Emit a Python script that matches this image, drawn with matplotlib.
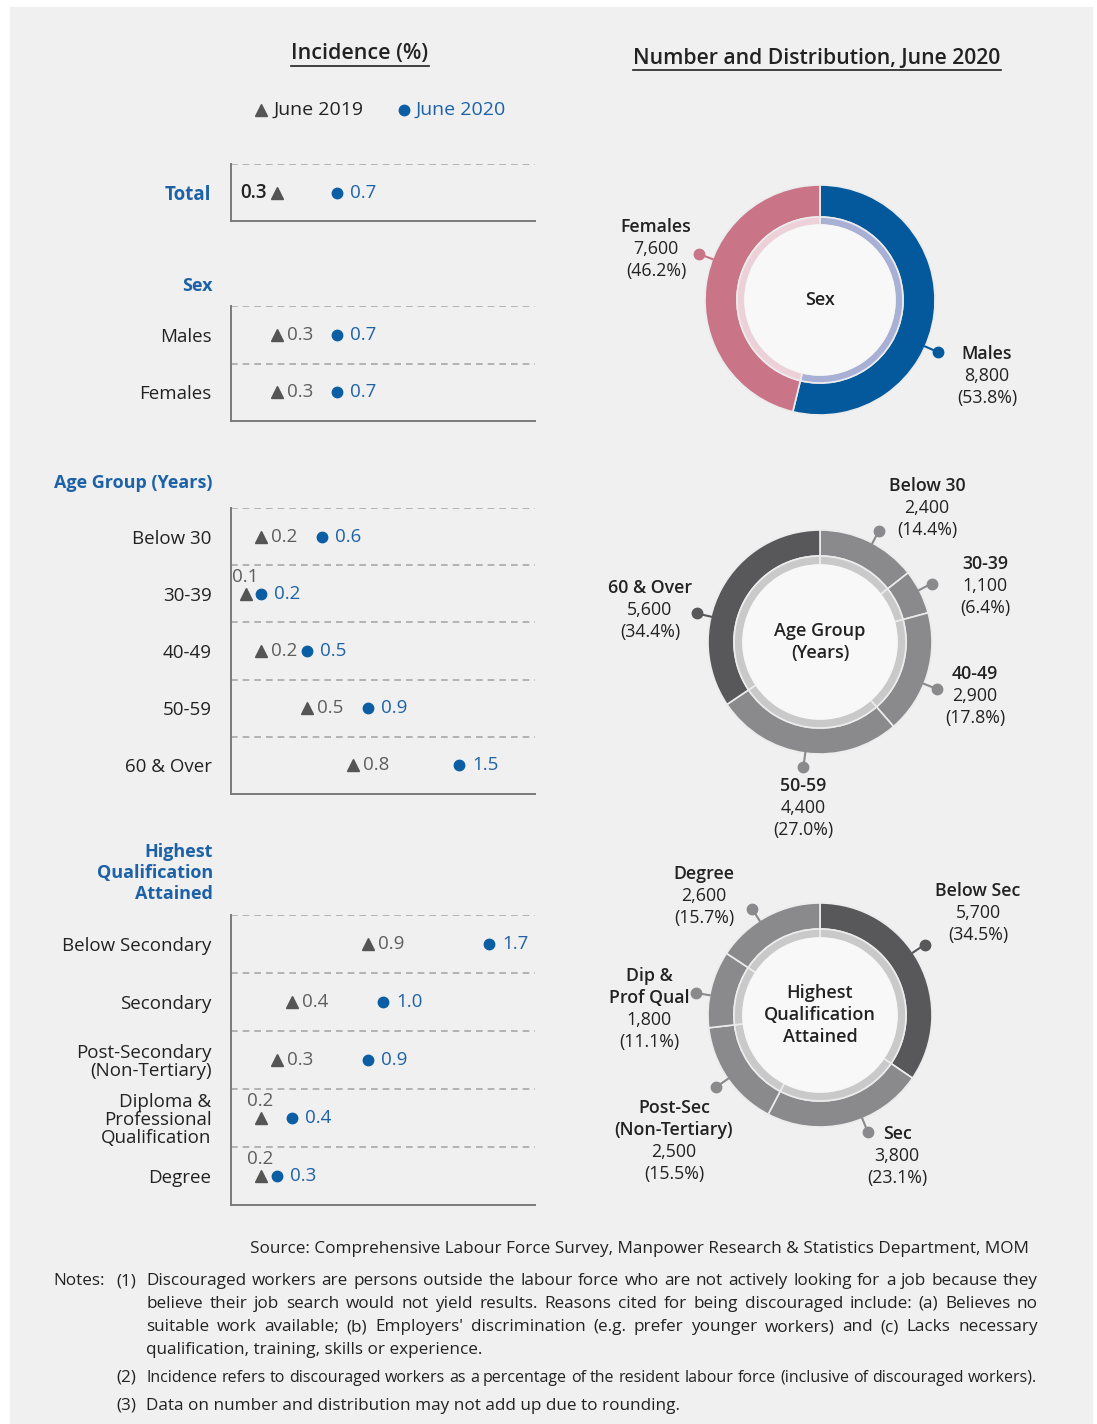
import matplotlib
matplotlib.use("Agg")
import matplotlib.pyplot as plt
import numpy as np
from matplotlib.patches import Circle, Rectangle

W, H = 1097, 1424
plt.rcParams["font.family"] = ["Open Sans", "DejaVu Sans"]

# ---- incidence (%) ----
total_labels = ["Total"]
total_2019 = [0.3]
total_2020 = [0.7]

sex_labels = ["Males", "Females"]
sex_2019 = [0.3, 0.3]
sex_2020 = [0.7, 0.7]

age_labels = ["Below 30", "30-39", "40-49", "50-59", "60 & Over"]
age_2019 = [0.2, 0.1, 0.2, 0.5, 0.8]
age_2020 = [0.6, 0.2, 0.5, 0.9, 1.5]

qual_labels = ["Below Secondary", "Secondary", "Post-Secondary\n(Non-Tertiary)",
               "Diploma &\nProfessional\nQualification", "Degree"]
qual_2019 = [0.9, 0.4, 0.3, 0.2, 0.2]
qual_2020 = [1.7, 1.0, 0.9, 0.4, 0.3]

# ---- number and distribution, June 2020 ----
sex_names = ["Males", "Females"]
sex_counts = [8800, 7600]
sex_shares = [53.8, 46.2]

age_names = ["Below 30", "30-39", "40-49", "50-59", "60 & Over"]
age_counts = [2400, 1100, 2900, 4400, 5600]
age_shares = [14.4, 6.4, 17.8, 27.0, 34.4]

qual_names = ["Below Sec", "Sec", "Post-Sec\n(Non-Tertiary)", "Dip &\nProf Qual", "Degree"]
qual_counts = [5700, 3800, 2500, 1800, 2600]
qual_shares = [34.5, 23.1, 15.5, 11.1, 15.7]

PANEL = "#f0f0f0"
BLUE = "#0b5ea3"
BLUE_TXT = "#1d62a6"
TRI = "#555555"
TRI_TXT = "#5e5e5e"
DARK = "#222222"
DASH = "#a8a8a8"
AXIS = "#7a7a7a"

fig = plt.figure(figsize=(W / 100, H / 100), dpi=100)
fig.patch.set_facecolor("white")
bg = fig.add_axes([0, 0, 1, 1])
bg.set_xlim(0, W)
bg.set_ylim(H, 0)
bg.axis("off")
bg.add_patch(Rectangle((10, 7), 1082, H - 7, color=PANEL, zorder=0))
renderer = fig.canvas.get_renderer()


def px_axes(x0, y0, x1, y1):
    return fig.add_axes([x0 / W, 1 - y1 / H, (x1 - x0) / W, (y1 - y0) / H])


def underlined(x, y, text, size):
    t = bg.text(x, y, text, ha="center", va="center", fontsize=size,
                fontweight="semibold", color=DARK)
    bb = t.get_window_extent(renderer)
    bg.plot([x - bb.width / 2, x + bb.width / 2], [y + 12, y + 12],
            color=DARK, lw=1.2)


underlined(360, 54, "Incidence (%)", 15.5)
underlined(817, 58, "Number and Distribution, June 2020", 15.2)

# legend
bg.plot(261, 110, "^", color=TRI, ms=9)
bg.text(273, 110, "June 2019", va="center", fontsize=14, color=DARK)
bg.plot(404, 110, "o", color=BLUE, ms=7.5)
bg.text(416, 110, "June 2020", va="center", fontsize=14, color=BLUE_TXT)


def dot_section(top, bottom, labels, v19, v20, modes, header=None, header_y=None):
    n = len(labels)
    ax = px_axes(231, top, 535, bottom)
    ax.set_xlim(0, 2)
    ax.set_ylim(n, 0)
    ax.patch.set_alpha(0)
    for s in ("top", "right"):
        ax.spines[s].set_visible(False)
    for s in ("left", "bottom"):
        ax.spines[s].set_color(AXIS)
        ax.spines[s].set_linewidth(1.4)
    for k in range(n):
        ax.axhline(k, color=DASH, ls=(0, (4, 3)), lw=1.2)
    ys = np.arange(n) + 0.5
    ax.set_xticks([])
    ax.set_yticks(ys, labels, fontsize=13.5, color=DARK, linespacing=1.0)
    ax.tick_params(axis="y", length=0, pad=14)
    if header == "Total":
        for t in ax.get_yticklabels():
            t.set_color(BLUE_TXT)
            t.set_fontweight("bold")
    ax.plot(v19, ys, "^", color=TRI, ms=9, ls="none", clip_on=False)
    ax.plot(v20, ys, "o", color=BLUE, ms=7.5, ls="none", clip_on=False)
    for a, b, y, m in zip(v19, v20, ys, modes):
        if m == "left":
            ax.annotate(f"{a:.1f}", (a, y), xytext=(-10, 0), textcoords="offset pixels",
                        ha="right", va="center", fontsize=13.5, color=DARK,
                        fontweight="semibold")
        elif m == "above":
            ax.annotate(f"{a:.1f}", (a, y), xytext=(-14, 17), textcoords="offset pixels",
                        ha="left", va="center", fontsize=13.5, color=TRI_TXT)
        else:
            ax.annotate(f"{a:.1f}", (a, y), xytext=(10, 0), textcoords="offset pixels",
                        ha="left", va="center", fontsize=13.5, color=TRI_TXT)
        ax.annotate(f"{b:.1f}", (b, y), xytext=(13, 0), textcoords="offset pixels",
                    ha="left", va="center", fontsize=13.5, color=BLUE_TXT)
    if header and header != "Total":
        bg.text(213, header_y, header, ha="right", va="center", fontsize=13,
                fontweight="bold", color=BLUE_TXT, linespacing=1.2)


dot_section(164, 221, total_labels, total_2019, total_2020, ["left"], header="Total")
dot_section(306, 421, sex_labels, sex_2019, sex_2020, ["right"] * 2,
            header="Sex", header_y=286)
dot_section(508, 794, age_labels, age_2019, age_2020,
            ["right", "above", "right", "right", "right"],
            header="Age Group (Years)", header_y=483)
dot_section(915, 1205, qual_labels, qual_2019, qual_2020,
            ["right", "right", "right", "above", "above"],
            header="Highest\nQualification\nAttained", header_y=873)


def donut(cx, cy, R, r_main, r_light, shares, colors, lights, nudges,
          names, counts, label_pos, center_text):
    half = R + 24
    ax = px_axes(cx - half, cy - half, cx + half, cy + half)
    ax.pie(shares, colors=colors, radius=1, startangle=90, counterclock=False,
           wedgeprops=dict(width=1 - r_main / R, edgecolor="#ececec", linewidth=1.2))
    ax.pie(shares, colors=lights, radius=r_main / R, startangle=90, counterclock=False,
           wedgeprops=dict(width=(r_main - r_light) / R, edgecolor="#ececec",
                           linewidth=1.2))
    ax.add_patch(Circle((0, 0), r_light / R, color="#f8f8f8", zorder=3))
    ax.set_xlim(-half / R, half / R)
    ax.set_ylim(-half / R, half / R)
    ax.set_aspect("equal")
    ax.axis("off")
    ax.text(0, 0, center_text, ha="center", va="center", fontsize=13,
            fontweight="semibold", color=DARK, linespacing=1.25, zorder=4)

    bounds = np.cumsum(shares) - np.array(shares) / 2
    for mid, nud, c in zip(bounds, nudges, colors):
        ang = np.radians(90 - (360 * mid / 100 + nud))
        r1 = 1 + 14 / R
        ax.plot([np.cos(ang), r1 * np.cos(ang)], [np.sin(ang), r1 * np.sin(ang)],
                color=c, lw=1.5, clip_on=False)
        ax.plot(r1 * np.cos(ang), r1 * np.sin(ang), "o", color=c, ms=7.5, clip_on=False)

    for name, cnt, share, (x, y) in zip(names, counts, shares, label_pos):
        lines = name.split("\n")
        for j, t in enumerate(lines):
            bg.text(x, y + 22 * j, t, ha="center", va="center", fontsize=12.8,
                    fontweight="semibold", color=DARK)
        k = len(lines)
        bg.text(x, y + 22 * k, f"{cnt:,}", ha="center", va="center",
                fontsize=12.8, color=DARK)
        bg.text(x, y + 22 * (k + 1), f"({share:.1f}%)", ha="center", va="center",
                fontsize=12.8, color=DARK)


GREY = "#8a8a8c"
GREY_D = "#58585a"
LIGHT = "#c9c9c9"

donut(820, 300, 115, 83, 75, sex_shares, ["#03599c", "#c97587"],
      ["#a8b1d5", "#ecd2d8"], [17, 14], sex_names, sex_counts,
      [(987, 354), (656, 227)], "Sex")
donut(820, 642, 112, 86, 77, age_shares, [GREY, GREY, GREY, GREY, GREY_D],
      [LIGHT] * 5, [2, -1, 5, 0, -15], age_names, age_counts,
      [(927, 486), (985, 564), (975, 674), (803, 786), (650, 588)],
      "Age Group\n(Years)")
donut(820, 1015, 112, 86, 77, qual_shares, [GREY_D, GREY, GREY, GREY, GREY],
      [LIGHT] * 5, [-6, -8, 0, -3, -4], qual_names, qual_counts,
      [(978, 891), (897, 1134), (674, 1108), (649, 976), (704, 874)],
      "Highest\nQualification\nAttained")


# ---- source and notes ----
def justify(x0, x1, y, text, size):
    words = text.split()
    arts = [bg.text(0, y, w, fontsize=size, va="center", color=DARK) for w in words]
    widths = [a.get_window_extent(renderer).width for a in arts]
    if sum(widths) + 3 * (len(words) - 1) > x1 - x0:
        for a in arts:
            a.remove()
        return justify(x0, x1, y, text, size * 0.97)
    gap = (x1 - x0 - sum(widths)) / (len(words) - 1)
    x = x0
    for a, w in zip(arts, widths):
        a.set_x(x)
        x += w + gap


NOTE = 12.3
bg.text(1029, 1249, "Source: Comprehensive Labour Force Survey, Manpower Research & "
        "Statistics Department, MOM", ha="right", va="center", fontsize=NOTE, color=DARK)
bg.text(53, 1281, "Notes:", va="center", fontsize=NOTE, color=DARK)
for lab, y in [("(1)", 1281), ("(2)", 1378), ("(3)", 1406)]:
    bg.text(116, y, lab, va="center", fontsize=NOTE, color=DARK)

justify(146, 1038, 1281, "Discouraged workers are persons outside the labour force who are "
        "not actively looking for a job because they", NOTE)
justify(146, 1038, 1304, "believe their job search would not yield results. Reasons cited "
        "for being discouraged include: (a) Believes no", NOTE)
justify(146, 1038, 1327, "suitable work available; (b) Employers' discrimination (e.g. prefer "
        "younger workers) and (c) Lacks necessary", NOTE)
bg.text(146, 1350, "qualification, training, skills or experience.", va="center",
        fontsize=NOTE, color=DARK)
justify(146, 1037, 1378, "Incidence refers to discouraged workers as a percentage of the "
        "resident labour force (inclusive of discouraged workers).", NOTE)
bg.text(146, 1406, "Data on number and distribution may not add up due to rounding.",
        va="center", fontsize=NOTE, color=DARK)

fig.savefig("out.png", dpi=100, facecolor=fig.get_facecolor())
